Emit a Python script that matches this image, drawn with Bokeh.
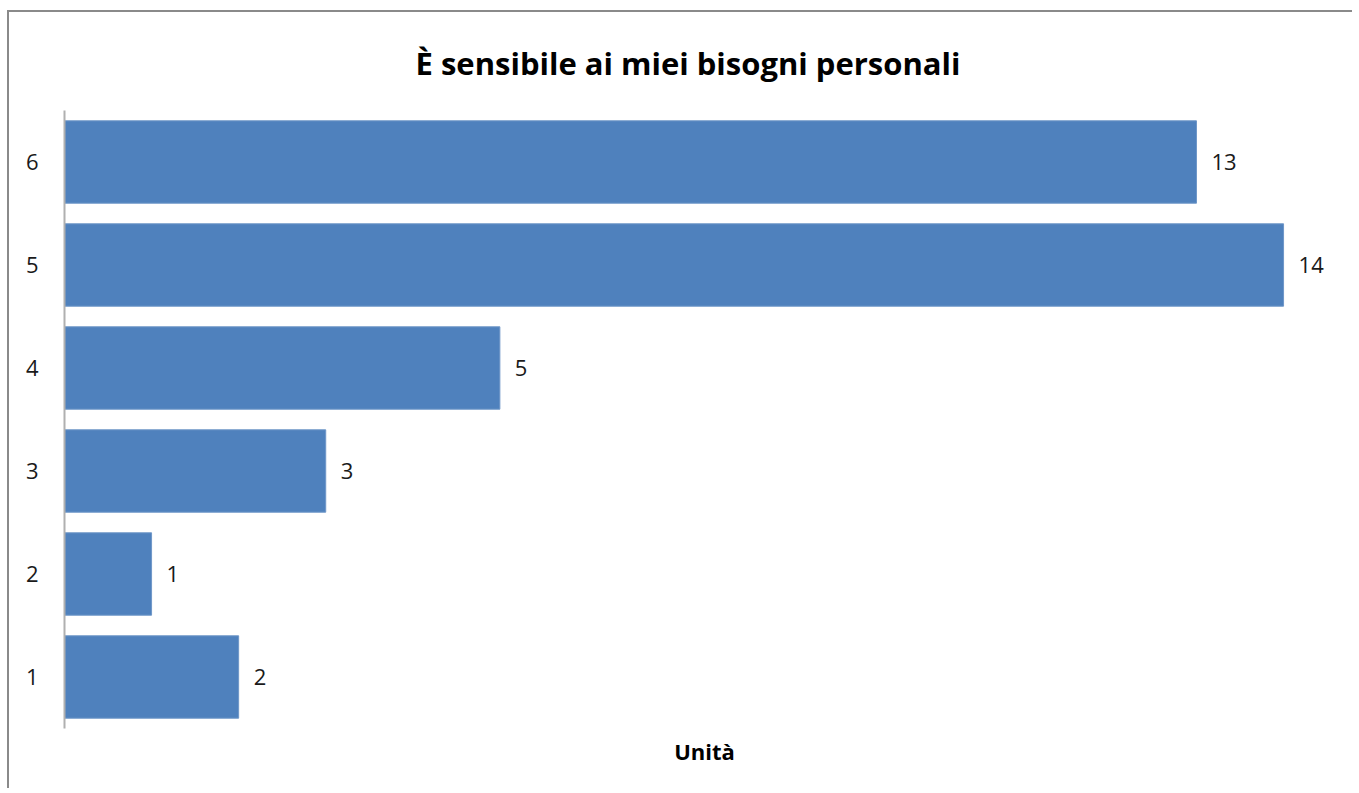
from bokeh.plotting import figure
from bokeh.models import ColumnDataSource, Range1d, FactorRange, LabelSet, FixedTicker
from bokeh.core.properties import value
from bokeh.embed import file_html
from bokeh.resources import INLINE

categories = ["1", "2", "3", "4", "5", "6"]
values = [2, 1, 3, 5, 14, 13]
labels = [str(v) for v in values]
title_text = "È sensibile ai miei bisogni personali"
x_label = "Unità"

FONT = "Open Sans"

src = ColumnDataSource(dict(cat=categories, val=values, lab=labels))

p = figure(width=1345, height=778, output_backend="svg", toolbar_location=None,
           y_range=FactorRange(*categories), x_range=Range1d(0, 14.70),
           title=title_text, min_border_left=55, min_border_right=10,
           min_border_top=98, min_border_bottom=62)
p.styles = {"border-left": "2px solid #8a8a8a", "border-top": "2px solid #8a8a8a",
            "border-right": "0px none", "border-bottom": "0px none",
            "margin-left": "7px", "margin-top": "10px"}

p.hbar(y="cat", right="val", left=0, height=0.8, source=src,
       fill_color="#4F81BD", line_color="#6F97C8", line_width=1)

p.add_layout(LabelSet(x="val", y="cat", text="lab", source=src, x_offset=15,
                      text_baseline="middle", text_font=value(FONT),
                      text_font_size=value("22px"), text_color="#1a1a1a"))

p.title.text_font = FONT
p.title.text_font_size = "31px"
p.title.text_font_style = "bold"
p.title.align = "left"
p.title.offset = 351
p.title.text_color = "#000000"
p.title.standoff = 54

p.grid.visible = False
p.outline_line_color = None

p.yaxis.axis_line_color = "#b0b0b0"
p.yaxis.axis_line_width = 2
p.yaxis.major_tick_line_color = None
p.yaxis.minor_tick_line_color = None
p.yaxis.major_label_text_font = FONT
p.yaxis.major_label_text_font_size = "22px"
p.yaxis.major_label_text_color = "#1a1a1a"
p.yaxis.major_label_standoff = 20
p.yaxis.axis_line_cap = "butt"

p.xaxis.ticker = FixedTicker(ticks=[])
p.xaxis.axis_line_color = None
p.xaxis.major_tick_line_color = None
p.xaxis.minor_tick_line_color = None
p.xaxis.axis_label = x_label
p.xaxis.axis_label_text_font = FONT
p.xaxis.axis_label_text_font_size = "22px"
p.xaxis.axis_label_text_font_style = "bold"
p.xaxis.axis_label_standoff = 7
p.xaxis.axis_label_text_color = "#000000"

p.y_range.range_padding = 0.0
p.y_range.group_padding = 0.0

open("out.html", "w").write(file_html(p, INLINE))
